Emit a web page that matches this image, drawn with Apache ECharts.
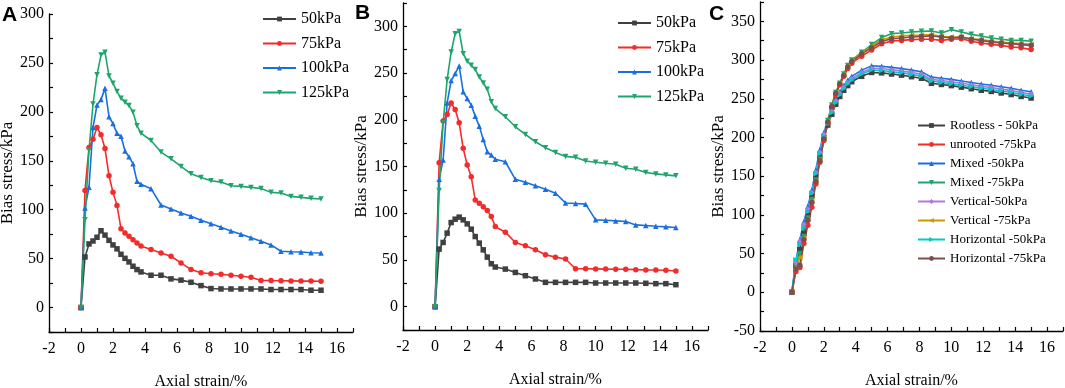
<!DOCTYPE html>
<html>
<head>
<meta charset="utf-8">
<script src="https://cdn.jsdelivr.net/npm/echarts@6/dist/echarts.min.js"></script>
<style>
  html, body { margin: 0; padding: 0; background: #fff; }
  #main { width: 1065px; height: 388px; }
</style>
</head>
<body>
<div id="main"></div>
<script>
// axial strain (%) sampled by the test, shared by every curve
const strain = [0, 0.25, 0.5, 0.75, 1, 1.25, 1.5, 1.75, 2, 2.25, 2.5, 2.75, 3, 3.25, 3.5, 3.75,
  4.375, 5, 5.625, 6.25, 6.875, 7.5, 8.125, 8.75, 9.375, 10, 10.625, 11.25, 11.875, 12.5, 13.125, 13.75, 14.375, 15]

// panel A
const a50 = [0, 51.7, 65, 68, 71.8, 78.5, 74, 68.7, 64, 60, 54.4, 50.3, 46.6, 42.2, 38.8, 36.4,
  33, 33, 29.3, 28, 25.8, 22.4, 19.4, 19, 19, 19, 19, 19, 18.4, 18.4, 18.4, 18.4, 17.7, 17.7]
const a75 = [0, 119.7, 163.6, 172, 184, 176.5, 162.5, 134.7, 117.7, 104.4, 80.6, 76.2, 72.8, 69.4, 66, 63,
  59.2, 55.8, 52.4, 45.6, 38.8, 35.5, 34.5, 34, 33, 32, 31, 27.6, 27.6, 27.4, 27.2, 27, 27, 26.8]
const a100 = [0, 101.7, 123, 184, 207, 212.5, 224, 195, 188, 178, 175, 160, 154, 147, 129, 126,
  121.5, 104.8, 100.7, 96.6, 93.2, 89.1, 85.6, 82, 78.3, 74.8, 71.4, 67.7, 64, 57.5, 57, 56.8, 56, 55.8]
const a125 = [0, 89.8, 161, 208, 238, 258, 261, 236.7, 229.3, 220.7, 214, 209.9, 206.4, 199.7, 185.7, 178.2,
  170.7, 158.9, 152, 144.2, 136.7, 133, 129.6, 128.2, 124.5, 123.8, 122.8, 121.7, 117.7, 117, 113.6, 112.6, 111.6, 111]

// panel B
const b50 = [0, 61.6, 68.7, 78.7, 90, 93.6, 95.8, 92.9, 88.6, 82.9, 75, 68, 60.8, 53, 45.9, 42.4,
  40.2, 36.6, 33.1, 29.6, 26, 26, 26, 26, 26, 25.3, 25.3, 25.3, 25.3, 25.3, 25, 24.6, 24.6, 23.5]
const b75 = [0, 154, 198.6, 205.7, 218, 211, 196.8, 169.4, 151.6, 139, 114.2, 110.7, 107, 102.8, 96.4, 85.7,
  79.7, 68.6, 65.1, 60.8, 55.5, 53, 51, 40.6, 40.6, 40.4, 40.2, 40, 40, 39.6, 39.3, 39.3, 39, 38.1]
const b100 = [0, 136.3, 157, 218, 242, 249.5, 257.6, 229.9, 222.8, 215.6, 203.9, 193.2, 179, 165.8, 162.3, 157.7,
  155.1, 136.3, 133.1, 129.5, 125.7, 121.4, 111, 110.4, 109.7, 92.9, 92.5, 91.8, 91.1, 87.5, 86.8, 86, 85.4, 84.7]
const b125 = [0, 124.2, 196.8, 243, 272.6, 292.2, 294.6, 270.8, 262.6, 258.4, 253.7, 245.9, 239.5, 232.7, 219.2, 212,
  203.2, 192.5, 184.3, 176.5, 170.1, 165.1, 160.8, 159.8, 155.9, 154.5, 153.4, 152.4, 148.1, 147, 143.5, 142.1, 141, 140]

// panel C
const cRootless50 = [0, 35, 55, 76, 99, 125, 150, 176, 200, 216, 230, 243, 253, 261, 267, 272,
  279, 284, 283.5, 282, 280.5, 278.5, 276.5, 270, 268.5, 267, 265, 263, 261, 259.5, 257.5, 255.5, 253, 251]
const cUnrooted75 = [0, 27, 32, 63, 86.5, 110, 140, 168, 196, 218, 238, 255, 268, 279, 289, 296,
  305, 313, 321, 324.6, 325.4, 326.4, 326.8, 326.8, 325.4, 326.8, 327.6, 324.2, 322, 320.3, 319, 316.8, 316, 313.5]
const cMixed50 = [0, 40, 68, 91, 111, 132, 158, 184, 206, 222, 236, 249, 259, 267, 274, 279,
  287, 292.5, 292, 290.5, 289, 287, 285, 278, 276.5, 275, 273, 271, 269, 267.5, 265.5, 263.5, 261, 259]
const cMixed75 = [0, 33, 50, 72, 96, 120, 145, 172, 198, 222, 242, 258, 270, 282, 293, 300,
  310, 320, 329, 334.1, 334.9, 336.2, 337.1, 337.5, 334.9, 339.3, 336.2, 333.2, 331, 328.4, 326.8, 325.4, 325.4, 324.2]
const cVertical50 = [0, 38, 66, 88, 108, 129, 155, 181, 204, 220, 234, 247, 257, 265, 271, 276,
  284, 289.5, 289, 287.5, 286, 284, 282, 275, 273.5, 272, 270, 268, 266, 264.5, 262.5, 260.5, 258, 256]
const cVertical75 = [0, 32, 45, 70, 94, 118, 144, 171, 198, 221, 241, 257, 270, 281, 292, 299,
  309, 318, 326, 329.7, 331, 331.9, 332.3, 332.8, 330.6, 329.7, 329.7, 327.6, 326.4, 324.6, 323.3, 322, 321.2, 320.3]
const cHorizontal50 = [0, 42, 62, 84, 104, 128, 153, 179, 202, 218, 232, 245, 255, 263, 269, 274,
  282, 287, 286.5, 285, 283.5, 281.5, 279.5, 273, 271, 269.5, 267.5, 265.5, 263.5, 262, 260, 258, 255.5, 253.5]
const cHorizontal75 = [0, 30, 35, 68, 93, 116, 143, 170, 198, 220, 240, 257, 269, 280, 291, 298,
  308, 316, 324, 327.6, 328.4, 329.7, 330.6, 331, 329.7, 328.4, 329.7, 326.8, 325.4, 323.3, 322, 321.2, 319.9, 319]

const pressureNames = ['50kPa', '75kPa', '100kPa', '125kPa']
const cNames = ['Rootless - 50kPa', 'unrooted -75kPa', 'Mixed -50kPa', 'Mixed -75kPa',
  'Vertical-50kPa', 'Vertical -75kPa', 'Horizontal -50kPa', 'Horizontal -75kPa']

const serif = '"Liberation Serif", "Times New Roman", serif'
const downTri = 'path://M0,0L10,0L5,9Z'
const leftTri = 'path://M0,5L9,0L9,10Z'
const rightTri = 'path://M0,0L9,5L0,10Z'

const colors = ['#404040', '#F42B2B', '#1A6FDF', '#1FA56B', '#B177DE', '#CC9900', '#00CBCC', '#7D4E4E']
const symbols = ['rect', 'circle', 'triangle', downTri, 'diamond', leftTri, rightTri, 'circle']

function pairs(ys) {
  return strain.map((x, i) => [x, ys[i]])
}

function xAxisFor(idx) {
  return {
    gridIndex: idx, type: 'value', min: -2, max: 17, interval: 1,
    axisLine: { onZero: false, lineStyle: { color: '#000', width: 1.3 } },
    axisTick: { inside: true, length: 4, lineStyle: { color: '#000', width: 1.2 } },
    axisLabel: { formatter: v => (v % 2 === 0 ? String(v) : ''), color: '#000', fontFamily: serif, fontSize: 16, margin: 9 },
    splitLine: { show: false },
    name: 'Axial strain/%', nameLocation: 'middle', nameGap: 42,
    nameTextStyle: { color: '#000', fontFamily: serif, fontSize: 16 }
  }
}

function yAxisFor(idx, min, max) {
  return {
    gridIndex: idx, type: 'value', min: min, max: max, interval: 25,
    axisLine: { show: true, onZero: false, lineStyle: { color: '#000', width: 1.3 } },
    axisTick: { show: true, inside: true, length: 4, lineStyle: { color: '#000', width: 1.2 } },
    axisLabel: { formatter: v => (v % 50 === 0 ? String(v) : ''), color: '#000', fontFamily: serif, fontSize: 16, margin: 5 },
    splitLine: { show: false },
    name: 'Bias stress/kPa', nameLocation: 'middle', nameGap: 30,
    nameTextStyle: { color: '#000', fontFamily: serif, fontSize: 17 }
  }
}

function lineSeries(name, ys, k, idx) {
  return {
    name: name, type: 'line', xAxisIndex: idx, yAxisIndex: idx,
    data: pairs(ys), symbol: symbols[k], symbolSize: 5.5, showSymbol: true,
    lineStyle: { width: 1.6, color: colors[k] },
    itemStyle: { color: colors[k] }
  }
}

const series = []
;[a50, a75, a100, a125].forEach((ys, k) => series.push(lineSeries(pressureNames[k], ys, k, 0)))
;[b50, b75, b100, b125].forEach((ys, k) => series.push(lineSeries(pressureNames[k], ys, k, 1)))
;[cRootless50, cUnrooted75, cMixed50, cMixed75, cVertical50, cVertical75, cHorizontal50, cHorizontal75]
  .forEach((ys, k) => series.push(lineSeries(cNames[k], ys, k, 2)))

const chart = echarts.init(document.getElementById('main'))
chart.setOption({
  animation: false,
  backgroundColor: '#fff',
  grid: [
    { left: 49, top: 14, width: 304, height: 318, outerBoundsMode: 'none' },
    { left: 403, top: 3, width: 305, height: 327, outerBoundsMode: 'none' },
    { left: 760, top: 2, width: 303, height: 329, outerBoundsMode: 'none' }
  ],
  xAxis: [xAxisFor(0), xAxisFor(1), xAxisFor(2)],
  yAxis: [yAxisFor(0, -25, 300), yAxisFor(1, -25, 325), yAxisFor(2, -50, 375)],
  legend: [
    {
      left: 257, top: 6, orient: 'vertical', itemWidth: 33, itemHeight: 6, itemGap: 8.5,
      data: pressureNames, textStyle: { color: '#000', fontFamily: serif, fontSize: 16 }
    },
    {
      left: 612, top: 10, orient: 'vertical', itemWidth: 33, itemHeight: 6, itemGap: 8.5,
      data: pressureNames, textStyle: { color: '#000', fontFamily: serif, fontSize: 16 }
    },
    {
      left: 912, top: 114, orient: 'vertical', itemWidth: 27, itemHeight: 6, itemGap: 6,
      data: cNames, textStyle: { color: '#000', fontFamily: serif, fontSize: 13 }
    }
  ],
  graphic: [
    { type: 'text', left: 2, top: 5, style: { text: 'A', font: 'bold 21px "Liberation Sans", Arial, sans-serif', fill: '#000' } },
    { type: 'text', left: 355, top: 3, style: { text: 'B', font: 'bold 21px "Liberation Sans", Arial, sans-serif', fill: '#000' } },
    { type: 'text', left: 709, top: 4, style: { text: 'C', font: 'bold 21px "Liberation Sans", Arial, sans-serif', fill: '#000' } }
  ],
  series: series
})
</script>
</body>
</html>
